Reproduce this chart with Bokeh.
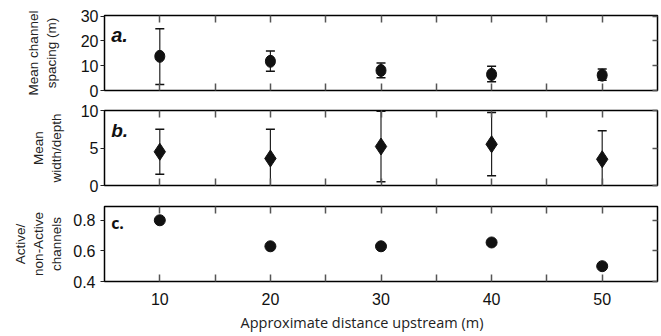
from bokeh.plotting import figure
from bokeh.layouts import column
from bokeh.models import Range1d, LinearAxis, FixedTicker, Label, Title
from bokeh.embed import file_html
from bokeh.resources import INLINE

# ---- data ----
distance = [10, 20, 30, 40, 50]
spacing_mean = [13.8, 11.8, 8.1, 6.5, 6.2]
spacing_upper = [24.9, 16.0, 11.1, 9.8, 8.7]
spacing_lower = [2.4, 7.8, 5.2, 3.5, 4.1]
wd_mean = [4.5, 3.6, 5.2, 5.5, 3.5]
wd_upper = [7.5, 7.5, 9.9, 9.75, 7.3]
wd_lower = [1.5, -0.5, 0.5, 1.3, -0.5]
active_ratio = [0.80, 0.63, 0.63, 0.655, 0.50]

x_ticks = [10, 20, 30, 40, 50]
x_minor_ticks = [15, 25, 35, 45]
a_ticks = [0, 10, 20, 30]
b_ticks = [0, 5, 10]
c_ticks = [0.4, 0.6, 0.8]

TICK_FONT = "Liberation Sans"
TICK_COLOR = "#555555"


def make_panel(height, top, bottom, yr, yticks, ylabel, label_standoff,
               tick_standoff=2, show_x_labels=False):
    p = figure(width=661, height=height, x_range=Range1d(5, 55),
               y_range=Range1d(*yr), output_backend="svg",
               toolbar_location=None, min_border_left=104,
               min_border_right=4, min_border_top=top,
               min_border_bottom=bottom)
    p.grid.visible = False
    p.outline_line_color = "black"
    p.outline_line_width = 1.5
    p.background_fill_color = "white"
    p.border_fill_color = "white"

    xt = FixedTicker(ticks=x_ticks, minor_ticks=x_minor_ticks)
    xa = p.xaxis[0]
    xa.ticker = xt
    xa.axis_line_color = None
    xa.major_tick_in = 7
    xa.major_tick_out = 0
    xa.minor_tick_in = 7
    xa.minor_tick_out = 0
    xa.major_tick_line_color = TICK_COLOR
    xa.minor_tick_line_color = TICK_COLOR
    xa.major_tick_line_width = 1.5
    xa.minor_tick_line_width = 1.5
    if show_x_labels:
        xa.major_label_text_font = TICK_FONT
        xa.major_label_text_font_size = "16px"
        xa.major_label_text_color = "#111111"
        xa.major_label_standoff = 11
    else:
        xa.major_label_text_font_size = "0px"
        xa.major_label_standoff = 0

    top_axis = LinearAxis(ticker=xt, axis_line_color=None,
                          major_tick_in=7, major_tick_out=0,
                          minor_tick_in=7, minor_tick_out=0,
                          major_tick_line_color=TICK_COLOR,
                          minor_tick_line_color=TICK_COLOR,
                          major_tick_line_width=1.5,
                          minor_tick_line_width=1.5,
                          major_label_text_font_size="0px",
                          major_label_standoff=0)
    p.add_layout(top_axis, "above")

    yt = FixedTicker(ticks=yticks, minor_ticks=[])
    ya = p.yaxis[0]
    ya.ticker = yt
    ya.axis_line_color = None
    ya.major_tick_in = 0
    ya.major_tick_out = 4
    ya.major_tick_line_color = "#222222"
    ya.major_tick_line_width = 1.2
    ya.minor_tick_line_color = None
    ya.major_label_text_font = TICK_FONT
    ya.major_label_text_font_size = "16px"
    ya.major_label_text_color = "#111111"
    ya.major_label_standoff = tick_standoff
    ya.axis_label = ylabel
    ya.axis_label_text_font = TICK_FONT
    ya.axis_label_text_font_size = "13.5px"
    ya.axis_label_text_font_style = "normal"
    ya.axis_label_text_color = "#222222"
    ya.axis_label_standoff = label_standoff

    right_axis = LinearAxis(ticker=yt, axis_line_color=None,
                            major_tick_in=5, major_tick_out=0,
                            minor_tick_line_color=None,
                            major_tick_line_color=TICK_COLOR,
                            major_tick_line_width=1.5,
                            major_label_text_font_size="0px",
                            major_label_standoff=0)
    p.add_layout(right_axis, "right")
    return p


def error_bars(p, lower, upper):
    p.segment(x0=distance, y0=lower, x1=distance, y1=upper,
              line_color="#222222", line_width=1.2)
    p.scatter(x=distance, y=upper, marker="dash", size=9,
              line_color="#111111", line_width=1.5)
    p.scatter(x=distance, y=lower, marker="dash", size=9,
              line_color="#111111", line_width=1.5)


# ---- panel a ----
pa = make_panel(100, 15, 10, (0, 30.3), a_ticks,
                "Mean channel\nspacing (m)", 19)
error_bars(pa, spacing_lower, spacing_upper)
pa.ellipse(x=distance, y=spacing_mean, width=10, height=12,
           width_units="screen", height_units="screen",
           fill_color="#111111", line_color="#111111")
pa.add_layout(Label(x=5.6, y=22.4, text="a.", text_font=TICK_FONT,
                    text_font_style="bold italic", text_font_size="20px",
                    text_baseline="alphabetic", text_color="#111111"))

# ---- panel b ----
pb = make_panel(95, 10, 10, (0, 10), b_ticks,
                "Mean\nwidth/depth", 14)
error_bars(pb, wd_lower, wd_upper)
pb.scatter(x=distance, y=wd_mean, marker="diamond", size=17,
           fill_color="#111111", line_color="#111111")
pb.add_layout(Label(x=5.6, y=7.4, text="b.", text_font=TICK_FONT,
                    text_font_style="bold italic", text_font_size="19px",
                    text_baseline="alphabetic", text_color="#111111"))

# ---- panel c ----
pc = make_panel(141, 11, 55, (0.4, 0.89), c_ticks,
                "Active/\nnon-Active\nchannels", 6, tick_standoff=5,
                show_x_labels=True)
pc.scatter(x=distance, y=active_ratio, marker="circle", size=11,
           fill_color="#111111", line_color="#111111")
pc.add_layout(Label(x=5.6, y=0.78, text="c.", text_font="Open Sans",
                    text_font_style="bold", text_font_size="16px",
                    text_baseline="alphabetic", text_color="#111111"))
pc.add_layout(Title(text="Approximate distance upstream (m)", align="left",
                    offset=136, text_font="Open Sans",
                    text_font_size="14.5px", text_font_style="normal",
                    text_color="#222222", standoff=6), "below")

layout = column(pa, pb, pc, spacing=0)

open("out.html", "w").write(file_html(layout, INLINE))
